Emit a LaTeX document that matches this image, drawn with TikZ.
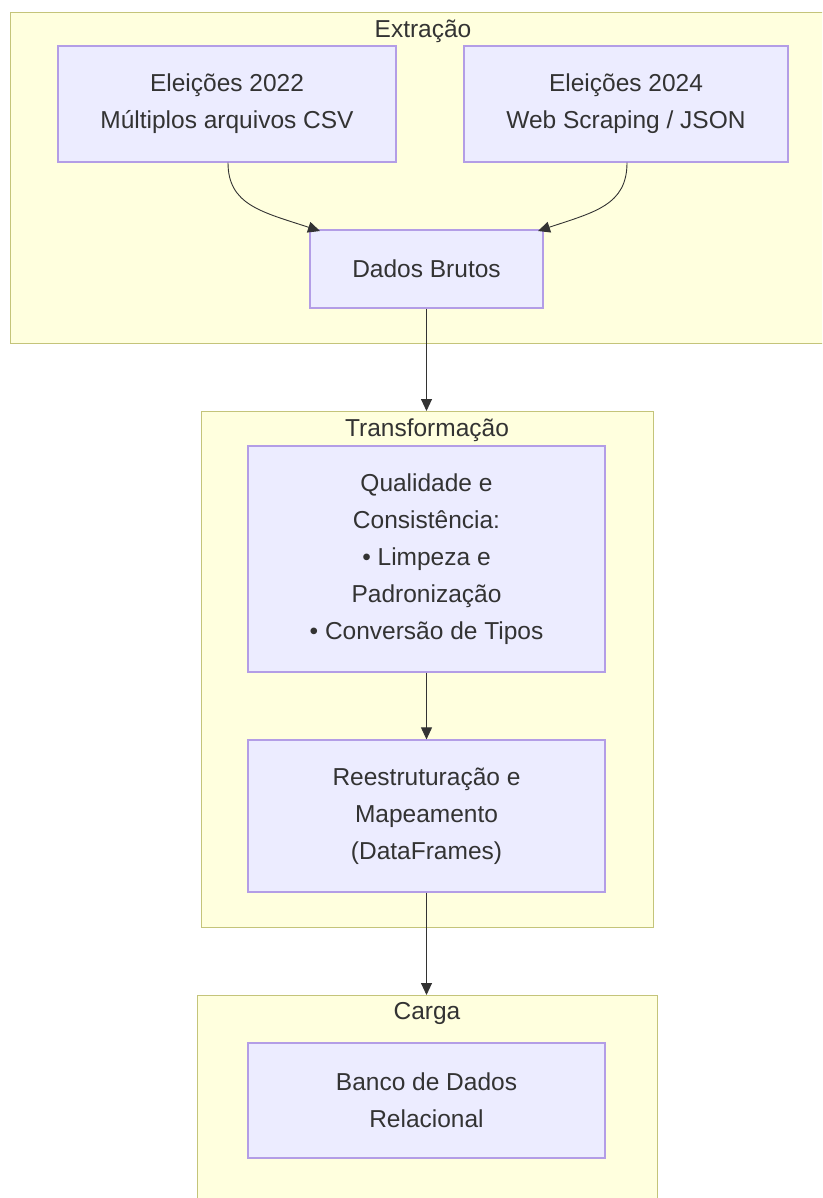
\documentclass[tikz,border=0pt]{standalone}
\usepackage{fontspec}
\setmainfont{Liberation Sans}
\usetikzlibrary{arrows.meta}
\definecolor{clusterfill}{HTML}{FFFFDE}
\definecolor{clusterline}{HTML}{C4C47A}
\definecolor{boxfill}{HTML}{ECECFF}
\definecolor{boxline}{HTML}{B39DE6}
\definecolor{ink}{HTML}{333333}
\tikzset{
  cluster/.style={draw=clusterline, fill=clusterfill, line width=1.3pt, rectangle, inner sep=0pt},
  stagebox/.style={draw=boxline, fill=boxfill, line width=1.2pt, rectangle, inner sep=0pt,
    align=center, text=ink, font=\fontsize{24.5}{37}\selectfont},
  title/.style={text=ink, font=\fontsize{24.5}{28}\selectfont, inner sep=0pt},
  flow/.style={draw=ink, line width=0.9pt, -{Triangle[length=12pt,width=11pt]}},
}
\begin{document}
\begin{tikzpicture}[x=1pt,y=-1pt]
\useasboundingbox (0,0) rectangle (822,1198);
\clip (0,0) rectangle (822,1198);
\fill[white] (0,0) rectangle (822,1198);

% clusters
\node[cluster, minimum width=826pt, minimum height=331pt, anchor=north west] (extr) at (10,12) {};
\node[title] (extrT) at (423,31) {Extração};
\node[cluster, minimum width=452pt, minimum height=516pt, anchor=north west] (transf) at (201,411) {};
\node[title] (transfT) at (427,430) {Transformação};
\node[cluster, minimum width=460pt, minimum height=240pt, anchor=north west] (carga) at (197,995) {};
\node[title] (cargaT) at (427,1013) {Carga};

% stage boxes
\node[stagebox, minimum width=338pt, minimum height=116pt] (e22) at (227,104)
  {Eleições 2022\\Múltiplos arquivos CSV};
\node[stagebox, minimum width=324pt, minimum height=116pt] (e24) at (626,104)
  {Eleições 2024\\Web Scraping / JSON};
\node[stagebox, minimum width=233pt, minimum height=78pt] (bruto) at (426.5,269)
  {Dados Brutos};
\node[stagebox, minimum width=357pt, minimum height=226pt] (qual) at (426.5,559)
  {Qualidade e\\Consistência:\\• Limpeza e\\Padronização\\• Conversão de Tipos};
\node[stagebox, minimum width=357pt, minimum height=152pt] (reest) at (426.5,816)
  {Reestruturação e\\Mapeamento\\(DataFrames)};
\node[stagebox, minimum width=357pt, minimum height=115pt] (banco) at (426.5,1100.5)
  {Banco de Dados\\Relacional};

% connectors
\coordinate (in22) at (320,231);
\coordinate (in24) at (538,231);
\draw[flow] (e22.south -| 228,0) .. controls (228,205) and (262,212) .. (in22);
\draw[flow] (e24.south -| 627,0) .. controls (627,205) and (595,212) .. (in24);
\draw[flow] (bruto.south) -- (bruto.south |- transf.north);
\draw[flow] (qual) -- (reest);
\draw[flow] (reest.south) -- (reest.south |- carga.north);
\end{tikzpicture}
\end{document}
